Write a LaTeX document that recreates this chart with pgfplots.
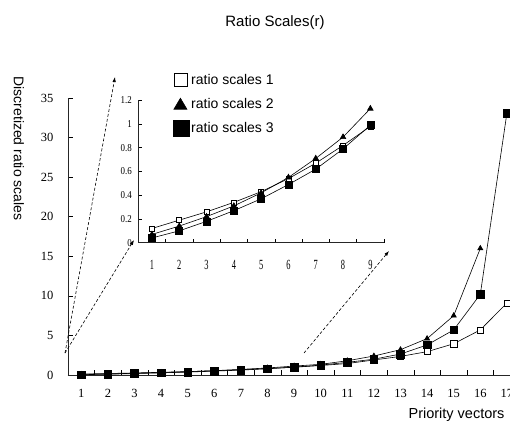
\documentclass[border=0pt]{standalone}
\usepackage{fontspec}
\setmainfont{Liberation Sans}
\newfontfamily\numfont{Liberation Serif}
\newfontfamily\narrownum[FakeStretch=0.6]{Liberation Serif}
\newfontfamily\insetnum[FakeStretch=0.85]{Liberation Serif}
\usepackage{pgfplots}
\pgfplotsset{compat=1.18}
\usetikzlibrary{arrows.meta}

\begin{document}
\begin{tikzpicture}
% main axis, 1pt = 1px of the reference
\begin{axis}[
    at={(0,0)}, anchor=south west,
    scale only axis, width=452.2pt, height=276.9pt,
    xmin=0.5, xmax=17.5, ymin=0, ymax=35,
    axis lines*=left,
    axis line style={line width=0.9pt, black!85},
    xtick={1,2,...,17}, minor x tick num=1,
    major x tick style={draw=none},
    ytick={0,5,...,35},
    tick align=inside, major tick length=5pt, minor tick length=5pt,
    tick style={black, line width=0.6pt},
    /pgf/number format/assume math mode=true,
    ticklabel style={font=\numfont\fontsize{12.5}{14}\selectfont},
    xticklabel style={yshift=-11pt},
    yticklabel style={xshift=-11pt},
    clip=false,
    legend style={at={(0.232,1.094)}, anchor=north west, draw=none, fill=none,
        font=\fontsize{14}{16}\selectfont, row sep=8pt, inner sep=0pt,
        /tikz/every even column/.append style={column sep=3pt}},
    legend cell align=left,
]
\addplot[black, line width=0.6pt, mark=square*, mark size=3.1pt,
    mark options={fill=white, line width=0.6pt},
    legend image code/.code={\draw[black, fill=white, line width=0.5pt] (0pt,-6.5pt) rectangle (13pt,6.5pt);}]
    coordinates {(1,0.12) (2,0.19) (3,0.26) (4,0.34) (5,0.43) (6,0.54) (7,0.67) (8,0.82) (9,0.98)
                 (10,1.2) (11,1.45) (12,1.9) (13,2.35) (14,2.95) (15,3.95) (16,5.7) (17,9.1)};
\addlegendentry{ratio scales 1}
\addplot[black, line width=0.6pt, mark=triangle*, mark size=3pt, mark options={fill=black},
    legend image code/.code={\fill[black] (0pt,-5.5pt) -- (13pt,-5.5pt) -- (6.5pt,5.5pt) -- cycle;}]
    coordinates {(1,0.07) (2,0.14) (3,0.22) (4,0.31) (5,0.42) (6,0.55) (7,0.71) (8,0.89) (9,1.13)
                 (10,1.35) (11,1.8) (12,2.4) (13,3.2) (14,4.6) (15,7.5) (16,16.0)};
\addlegendentry{ratio scales 2}
\addplot[black, line width=0.6pt, mark=square*, mark size=3.8pt, mark options={fill=black},
    legend image code/.code={\fill[black] (-0.5pt,-8pt) rectangle (15pt,8pt);}]
    coordinates {(1,0.04) (2,0.10) (3,0.18) (4,0.27) (5,0.37) (6,0.49) (7,0.62) (8,0.79) (9,0.99)
                 (10,1.25) (11,1.6) (12,2.0) (13,2.65) (14,3.8) (15,5.7) (16,10.2) (17,33.1)};
\addlegendentry{ratio scales 3}
\end{axis}

% zoomed inset of the first nine vectors
\begin{axis}[
    at={(70.3pt,132.3pt)}, anchor=south west,
    scale only axis, width=245.7pt, height=142.4pt,
    xmin=0.5, xmax=9.5, ymin=0, ymax=1.2,
    axis lines*=left,
    axis line style={line width=0.9pt, black!85},
    xtick={1,2,...,9}, minor x tick num=1,
    major x tick style={draw=none},
    extra x ticks={9.5}, extra x tick labels={},
    extra x tick style={major x tick style={draw=black}},
    ytick={0,0.2,0.4,0.6,0.8,1,1.2},
    tick align=inside, major tick length=4pt, minor tick length=4pt,
    tick style={black, line width=0.6pt},
    /pgf/number format/assume math mode=true,
    xticklabel style={font=\narrownum\fontsize{14}{16}\selectfont, yshift=-14pt},
    yticklabel style={font=\insetnum\fontsize{10.5}{12}\selectfont, xshift=-3pt},
    clip=false,
]
\addplot[black, line width=0.6pt, mark=square*, mark size=2.5pt,
    mark options={fill=white, line width=0.6pt}]
    coordinates {(1,0.12) (2,0.19) (3,0.26) (4,0.34) (5,0.43) (6,0.54) (7,0.67) (8,0.82) (9,0.98)};
\addplot[black, line width=0.6pt, mark=triangle*, mark size=3.2pt, mark options={fill=black}]
    coordinates {(1,0.07) (2,0.14) (3,0.22) (4,0.31) (5,0.42) (6,0.55) (7,0.71) (8,0.89) (9,1.13)};
\addplot[black, line width=0.6pt, mark=square*, mark size=3.5pt, mark options={fill=black}]
    coordinates {(1,0.04) (2,0.10) (3,0.18) (4,0.27) (5,0.37) (6,0.49) (7,0.62) (8,0.79) (9,0.99)};
\end{axis}

% zoom arrows
\begin{scope}[line width=0.6pt, dash pattern=on 3pt off 2pt, -{Latex[length=5pt,width=3.5pt]}]
\draw (-3pt,22pt) -- (47pt,298pt);
\draw (-3pt,22pt) -- (66pt,135pt);
\draw (236pt,22pt) -- (321pt,124pt);
\end{scope}

\node[font=\fontsize{15}{17}\selectfont, anchor=base] at (207pt,348pt) {Ratio Scales(r)};
\node[font=\fontsize{14}{16}\selectfont, rotate=-90, anchor=west] at (-49pt,302pt) {Discretized ratio scales};
\node[font=\fontsize{14.5}{16}\selectfont, anchor=base east] at (440pt,-43pt) {Priority vectors};

\pgfresetboundingbox
\useasboundingbox (-68pt,-46pt) rectangle (442pt,375pt);
\end{tikzpicture}
\end{document}
